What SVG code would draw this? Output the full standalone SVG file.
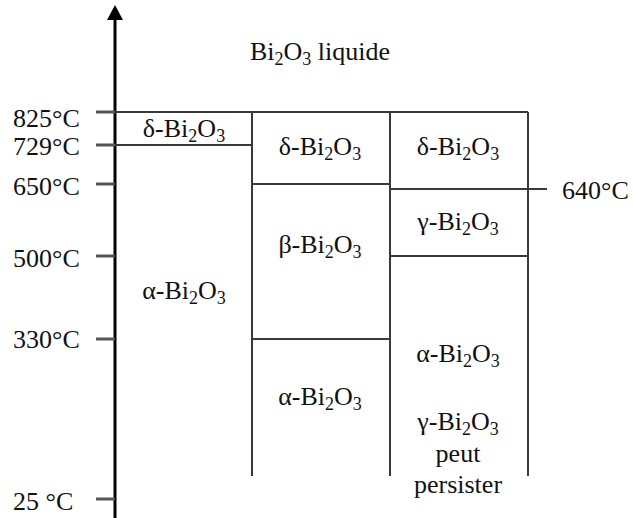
<svg xmlns="http://www.w3.org/2000/svg" width="633" height="518" viewBox="0 0 633 518">
<style>
text{font-family:"Liberation Serif","Times New Roman",serif;font-size:26px;fill:#111}
.c{text-anchor:middle}
.s{font-size:18px}
.ln{stroke:#3a3a3a;stroke-width:2;fill:none}
.tk{stroke:#555;stroke-width:3;fill:none}
.ax{stroke:#000;stroke-width:3;fill:none}
</style>
<rect width="633" height="518" fill="#fff"/>
<g id="connectors">
<line class="ax" x1="115" y1="18" x2="115" y2="518"/>
<polygon points="115,5 107,20 123,20" fill="#000"/>
<line class="tk" x1="96" y1="112" x2="115" y2="112"/>
<line class="ln" x1="115" y1="112" x2="528" y2="112"/>
<line class="tk" x1="96" y1="145" x2="115" y2="145"/>
<line class="ln" x1="115" y1="145" x2="252" y2="145"/>
<line class="tk" x1="96" y1="184" x2="115" y2="184"/>
<line class="ln" x1="252" y1="184" x2="390" y2="184"/>
<line class="ln" x1="390" y1="189" x2="547" y2="189"/>
<line class="tk" x1="96" y1="256" x2="115" y2="256"/>
<line class="ln" x1="390" y1="256" x2="528" y2="256"/>
<line class="tk" x1="96" y1="339" x2="115" y2="339"/>
<line class="ln" x1="252" y1="339" x2="390" y2="339"/>
<line class="tk" x1="96" y1="499" x2="115" y2="499"/>
<line class="ln" x1="252" y1="112" x2="252" y2="476"/>
<line class="ln" x1="390" y1="112" x2="390" y2="476"/>
<line class="ln" x1="528" y1="112" x2="528" y2="476"/>
</g>
<g id="axis-labels">
<text x="13" y="127">825°C</text>
<text x="13" y="155">729°C</text>
<text x="13" y="195">650°C</text>
<text x="13" y="267">500°C</text>
<text x="13" y="348">330°C</text>
<text x="13" y="510">25 °C</text>
<text x="562" y="199">640°C</text>
</g>
<g id="liquid"><text class="c" x="320" y="60">Bi<tspan class="s" dy="5">2</tspan><tspan dy="-5">O</tspan><tspan class="s" dy="5">3</tspan><tspan dy="-5"> liquide</tspan></text></g>
<g id="c1-delta"><text class="c" x="184" y="137">δ-Bi<tspan class="s" dy="5">2</tspan><tspan dy="-5">O</tspan><tspan class="s" dy="5">3</tspan></text></g>
<g id="c1-alpha"><text class="c" x="184" y="299">α-Bi<tspan class="s" dy="5">2</tspan><tspan dy="-5">O</tspan><tspan class="s" dy="5">3</tspan></text></g>
<g id="c2-delta"><text class="c" x="320" y="155">δ-Bi<tspan class="s" dy="5">2</tspan><tspan dy="-5">O</tspan><tspan class="s" dy="5">3</tspan></text></g>
<g id="c2-beta"><text class="c" x="320" y="253">β-Bi<tspan class="s" dy="5">2</tspan><tspan dy="-5">O</tspan><tspan class="s" dy="5">3</tspan></text></g>
<g id="c2-alpha"><text class="c" x="320" y="405">α-Bi<tspan class="s" dy="5">2</tspan><tspan dy="-5">O</tspan><tspan class="s" dy="5">3</tspan></text></g>
<g id="c3-delta"><text class="c" x="458" y="155">δ-Bi<tspan class="s" dy="5">2</tspan><tspan dy="-5">O</tspan><tspan class="s" dy="5">3</tspan></text></g>
<g id="c3-gamma"><text class="c" x="458" y="230">γ-Bi<tspan class="s" dy="5">2</tspan><tspan dy="-5">O</tspan><tspan class="s" dy="5">3</tspan></text></g>
<g id="c3-alpha">
<text class="c" x="458" y="362">α-Bi<tspan class="s" dy="5">2</tspan><tspan dy="-5">O</tspan><tspan class="s" dy="5">3</tspan></text>
<text class="c" x="458" y="430">γ-Bi<tspan class="s" dy="5">2</tspan><tspan dy="-5">O</tspan><tspan class="s" dy="5">3</tspan></text>
<text class="c" x="458" y="462">peut</text>
<text class="c" x="458" y="493">persister</text>
</g>
</svg>
